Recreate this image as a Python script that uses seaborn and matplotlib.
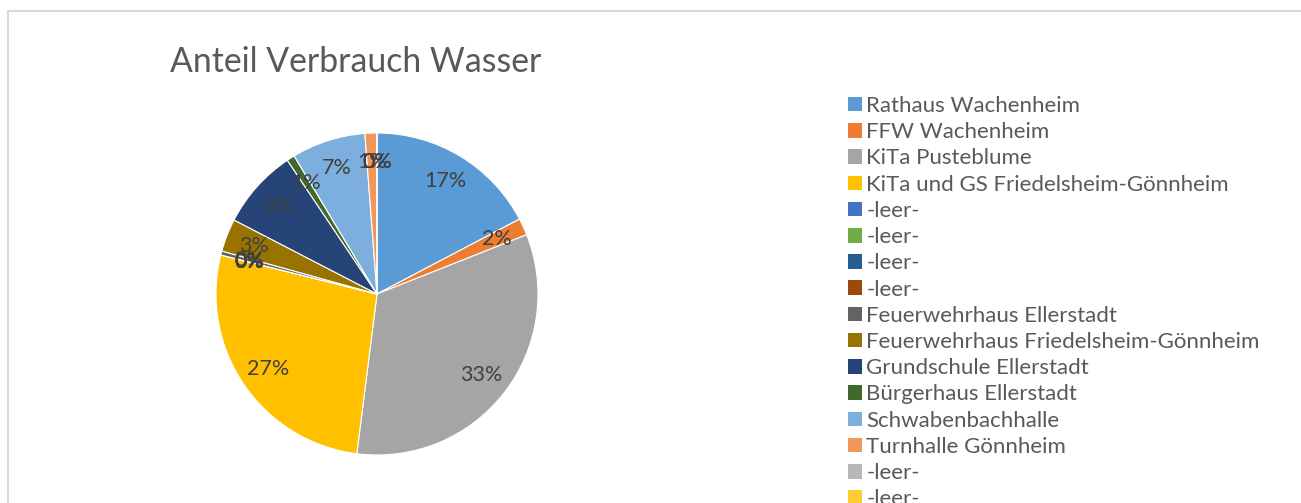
import matplotlib
matplotlib.use('Agg')
import matplotlib.pyplot as plt
import seaborn as sns
from matplotlib.patches import Patch
from matplotlib.lines import Line2D

sns.set_theme(style='white')
plt.rcParams['font.family'] = ['Lato', 'DejaVu Sans']

# Data (share of water consumption in %)
labels = ['Rathaus Wachenheim', 'FFW Wachenheim', 'KiTa Pusteblume',
          'KiTa und GS Friedelsheim-Gönnheim', '-leer-', '-leer-', '-leer-', '-leer-',
          'Feuerwehrhaus Ellerstadt', 'Feuerwehrhaus Friedelsheim-Gönnheim',
          'Grundschule Ellerstadt', 'Bürgerhaus Ellerstadt', 'Schwabenbachhalle',
          'Turnhalle Gönnheim', '-leer-', '-leer-']
values = [17.3, 1.7, 33.0, 26.9, 0, 0, 0, 0,
          0.4, 3.3, 8.0, 0.8, 7.4, 1.2, 0, 0]
colors = ['#5B9BD5', '#ED7D31', '#A5A5A5', '#FFC000', '#4472C4', '#70AD47',
          '#255E91', '#9E480E', '#636363', '#997300', '#264478', '#43682B',
          '#7CAFDD', '#F1975A', '#B7B7B7', '#FFCD33']

W, H = 1301, 503
fig = plt.figure(figsize=(W / 100, H / 100), dpi=100)

# chart frame (top and left edges visible)
fig.add_artist(Line2D([8 / W, 8 / W], [0, 1 - 11 / H], transform=fig.transFigure,
                      color='#D9D9D9', lw=1.5))
fig.add_artist(Line2D([8 / W, 1], [1 - 11 / H, 1 - 11 / H], transform=fig.transFigure,
                      color='#D9D9D9', lw=1.5))

# pie
cx, cy, r = 377, 294, 161
ax = fig.add_axes([(cx - r) / W, (H - cy - r) / H, 2 * r / W, 2 * r / H])
wedges, texts, autotexts = ax.pie(
    values, colors=colors, startangle=90, counterclock=False,
    autopct='%1.0f%%', pctdistance=0.82,
    wedgeprops=dict(edgecolor='white', linewidth=0.8),
    textprops=dict(color='#404040', fontsize=15.5))
ax.set_xlim(-1, 1)
ax.set_ylim(-1, 1)
ax.set_aspect('equal')
ax.axis('off')

fig.text(170 / W, 1 - 62 / H, 'Anteil Verbrauch Wasser', fontsize=24.3,
         color='#595959', va='center', ha='left')

handles = [Patch(facecolor=c, edgecolor='none') for c in colors]
fig.legend(handles, labels, loc='upper left', bbox_to_anchor=(848 / W, 1 - 96 / H),
           frameon=False, fontsize=16, labelcolor='#595959',
           handlelength=0.63, handleheight=0.63, handletextpad=0.2,
           labelspacing=0.28, borderaxespad=0, borderpad=0)

fig.savefig('out.png', dpi=100)
